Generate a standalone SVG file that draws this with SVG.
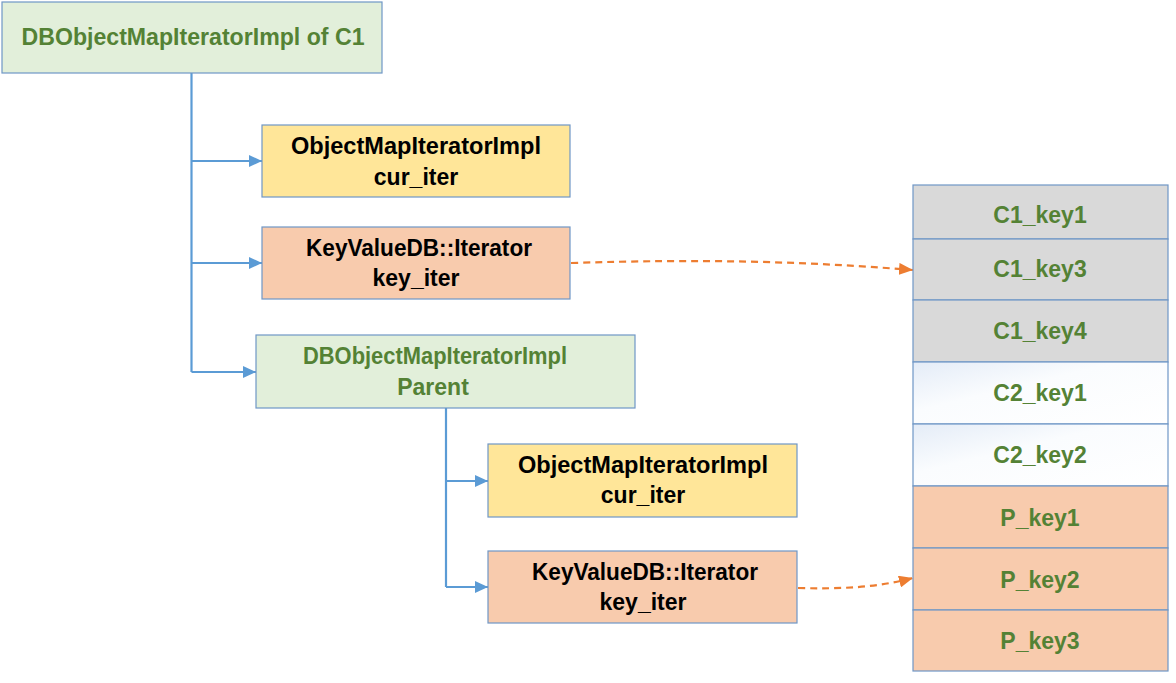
<svg xmlns="http://www.w3.org/2000/svg" width="1176" height="683" viewBox="0 0 1176 683">
<style>
  text { font-family: "Liberation Sans", Arial, sans-serif; font-weight: bold; font-size: 23px; text-anchor: middle; }
  .g { fill: #548235; }
  .k { fill: #000000; }
  .box { stroke: #6F97C6; stroke-width: 1.2; }
  .green { fill: #E2EFDA; }
  .yellow { fill: #FFE699; }
  .orange { fill: #F8CBAD; }
  .gray { fill: #D9D9D9; }
  .tree { fill: none; stroke: #5B9BD5; stroke-width: 2.2; }
  .dash { fill: none; stroke: #ED7D31; stroke-width: 2.2; stroke-dasharray: 7 5; }
</style>
<defs>
  <marker id="blueArrow" viewBox="0 0 13 12" refX="13" refY="6" markerWidth="13" markerHeight="12" markerUnits="userSpaceOnUse" orient="auto">
    <path d="M0,0 L13,6 L0,12 z" fill="#5B9BD5"/>
  </marker>
  <marker id="orangeArrow" viewBox="0 0 14 12" refX="14" refY="6" markerWidth="14" markerHeight="12" markerUnits="userSpaceOnUse" orient="auto">
    <path d="M0,0 L14,6 L0,12 z" fill="#ED7D31"/>
  </marker>
  <linearGradient id="c2grad" x1="0" y1="0" x2="1" y2="1">
    <stop offset="0" stop-color="#E4ECF7"/>
    <stop offset="0.4" stop-color="#FAFCFE"/>
    <stop offset="1" stop-color="#FFFFFF"/>
  </linearGradient>
</defs>

<g id="connectors">
  <path class="tree" d="M191.5,73 V372"/>
  <path class="tree" d="M191.5,161 H262" marker-end="url(#blueArrow)"/>
  <path class="tree" d="M191.5,263 H262" marker-end="url(#blueArrow)"/>
  <path class="tree" d="M191.5,372 H256" marker-end="url(#blueArrow)"/>
  <path class="tree" d="M446,408 V587"/>
  <path class="tree" d="M446,481 H488" marker-end="url(#blueArrow)"/>
  <path class="tree" d="M446,587 H488" marker-end="url(#blueArrow)"/>
  <path class="dash" d="M571,263 C700,259 800,261 913,270" marker-end="url(#orangeArrow)"/>
  <path class="dash" d="M798,588 C840,589 875,588 913,578" marker-end="url(#orangeArrow)"/>
</g>

<g id="root">
  <rect class="box green" x="2" y="2" width="380" height="71"/>
  <text class="g" x="193" y="45" textLength="343" lengthAdjust="spacingAndGlyphs">DBObjectMapIteratorImpl of C1</text>
</g>

<g id="cur_iter_1">
  <rect class="box yellow" x="262" y="125" width="308" height="72"/>
  <text class="k" x="416" y="154" textLength="250" lengthAdjust="spacingAndGlyphs">ObjectMapIteratorImpl</text>
  <text class="k" x="416" y="185">cur_iter</text>
</g>

<g id="key_iter_1">
  <rect class="box orange" x="262" y="227" width="308" height="72"/>
  <text class="k" x="419" y="256" textLength="226" lengthAdjust="spacingAndGlyphs">KeyValueDB::Iterator</text>
  <text class="k" x="416" y="286">key_iter</text>
</g>

<g id="parent">
  <rect class="box green" x="256" y="335" width="379" height="73"/>
  <text class="g" x="435" y="364" textLength="264" lengthAdjust="spacingAndGlyphs">DBObjectMapIteratorImpl</text>
  <text class="g" x="433" y="395">Parent</text>
</g>

<g id="cur_iter_2">
  <rect class="box yellow" x="488" y="444" width="309" height="73"/>
  <text class="k" x="643" y="473" textLength="250" lengthAdjust="spacingAndGlyphs">ObjectMapIteratorImpl</text>
  <text class="k" x="643" y="503">cur_iter</text>
</g>

<g id="key_iter_2">
  <rect class="box orange" x="488" y="551" width="309" height="72"/>
  <text class="k" x="645" y="580" textLength="226" lengthAdjust="spacingAndGlyphs">KeyValueDB::Iterator</text>
  <text class="k" x="643" y="610">key_iter</text>
</g>

<g id="key_stack">
  <g id="C1_key1">
    <rect class="box gray" x="913" y="185" width="255" height="54"/>
    <text class="g" x="1040" y="223">C1_key1</text>
  </g>
  <g id="C1_key3">
    <rect class="box gray" x="913" y="239" width="255" height="61"/>
    <text class="g" x="1040" y="277">C1_key3</text>
  </g>
  <g id="C1_key4">
    <rect class="box gray" x="913" y="300" width="255" height="62"/>
    <text class="g" x="1040" y="339">C1_key4</text>
  </g>
  <g id="C2_key1">
    <rect class="box" fill="url(#c2grad)" x="913" y="362" width="255" height="62"/>
    <text class="g" x="1040" y="401">C2_key1</text>
  </g>
  <g id="C2_key2">
    <rect class="box" fill="url(#c2grad)" x="913" y="424" width="255" height="62"/>
    <text class="g" x="1040" y="463">C2_key2</text>
  </g>
  <g id="P_key1">
    <rect class="box orange" x="913" y="486" width="255" height="62"/>
    <text class="g" x="1040" y="526">P_key1</text>
  </g>
  <g id="P_key2">
    <rect class="box orange" x="913" y="548" width="255" height="62"/>
    <text class="g" x="1040" y="588">P_key2</text>
  </g>
  <g id="P_key3">
    <rect class="box orange" x="913" y="610" width="255" height="61"/>
    <text class="g" x="1040" y="649">P_key3</text>
  </g>
</g>
</svg>
